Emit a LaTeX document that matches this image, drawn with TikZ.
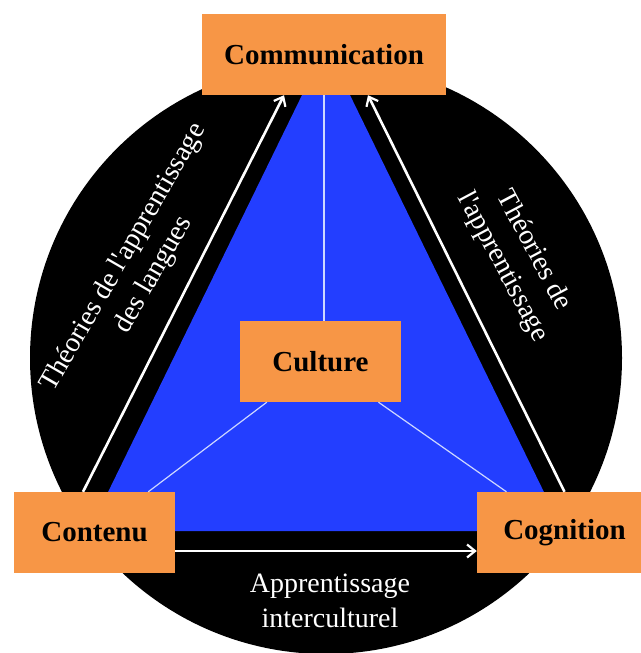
\documentclass[tikz,border=0pt]{standalone}
\usepackage{fontspec}
\setmainfont{Liberation Serif}
\usepackage{tikz}
\usetikzlibrary{arrows.meta}

\definecolor{poleorange}{RGB}{247,150,70}
\definecolor{triblue}{RGB}{35,62,255}
\definecolor{linkblue}{RGB}{205,215,255}

\tikzset{
        pole/.style={fill=poleorange,text=black,inner sep=0pt,minimum height=81pt,
                font=\fontsize{29}{29}\selectfont\bfseries},
        lien/.style={linkblue,line width=1.2pt},
        fleche/.style={white,line width=2.6pt,-{Straight Barb[length=8pt,width=13pt,line width=2.2pt]}},
        theorie/.style={text=white,align=center,inner sep=0pt,
                font=\fontsize{28}{35}\selectfont}
}

\begin{document}
\begin{tikzpicture}[x=1pt,y=-1pt]
        \useasboundingbox (0,0) rectangle (640,653);

        \fill[black] (326,358) circle (296pt);
        \fill[triblue] (326,46) -- (563,531) -- (89,531) -- cycle;

        \node[pole,minimum width=244pt] (com) at (324,54.5) {Communication};
        \node[pole,minimum width=161pt] (cul) at (320.5,361.5) {Culture};
        \node[pole,minimum width=161pt] (con) at (94.5,532.5) {Contenu};
        \node[pole,minimum width=175pt] (cog) at (564.5,532.5) {Cognition};

        \draw[lien] (com.south) -- (com.south |- cul.north);
        \draw[lien] (cul) -- (con);
        \draw[lien] (cul) -- (cog);

        \draw[fleche] ([xshift=-11.5pt]con.north) -- ([xshift=-40pt]com.south);
        \draw[fleche,{Straight Barb[length=8pt,width=13pt,line width=2.2pt]}-] ([xshift=44pt]com.south) -- (cog.north);
        \draw[fleche] ([yshift=-18.5pt]con.east) -- ([yshift=-18.5pt]cog.west);

        \node[theorie,rotate=60] (tl) at (139,266) {Théories de l\textquotesingle apprentissage\\des langues};
        \node[theorie,rotate=-62] (tr) at (518,259) {Théories de\\l\textquotesingle apprentissage};
        \node[theorie] (ai) at (330,601) {Apprentissage\\interculturel};
\end{tikzpicture}
\end{document}
